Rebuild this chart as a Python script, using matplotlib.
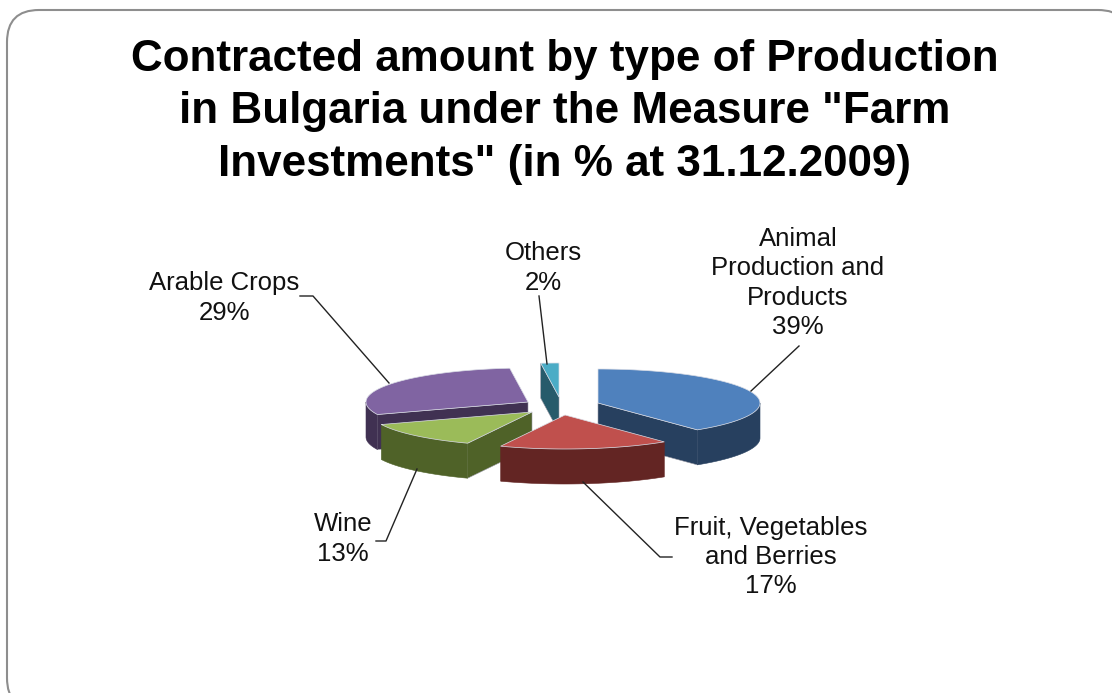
import numpy as np
import matplotlib
matplotlib.use("Agg")
import matplotlib.pyplot as plt
from matplotlib.patches import Polygon, FancyBboxPatch

plt.rcParams['font.family'] = ['Liberation Sans', 'DejaVu Sans']

title = 'Contracted amount by type of Production\nin Bulgaria under the Measure "Farm\nInvestments" (in % at 31.12.2009)'
categories = ['Animal\nProduction and\nProducts', 'Fruit, Vegetables\nand Berries', 'Wine', 'Arable Crops', 'Others']
values = [39.5, 17.0, 12.5, 29.2, 1.8]
value_labels = ['39%', '17%', '13%', '29%', '2%']

top_colors = ['#4F81BD', '#C0504D', '#9BBB59', '#8064A2', '#4BACC6']
side_colors = ['#27405F', '#632523', '#4F6228', '#403152', '#275B6B']
apexes = [(598, 403), (565, 415), (532, 412), (528, 402), (559, 397)]
label_pos = [(798, 283), (771, 557), (343, 539), (224, 298), (543, 268)]
leaders = [
    [(799, 346), (751, 391)],
    [(583, 482), (660, 557), (672, 557)],
    [(417, 469), (386, 541), (376, 541)],
    [(300, 296), (313, 296), (389, 383)],
    [(539, 296), (547, 364)],
]
RX, RY, DEPTH = 162, 34, 35
draw_order = [4, 3, 0, 2, 1]

fig = plt.figure(figsize=(11.12, 6.93), dpi=100)
ax = fig.add_axes([0, 0, 1, 1])
ax.set_xlim(0, 1112)
ax.set_ylim(693, 0)
ax.axis('off')

ax.add_patch(FancyBboxPatch((37, 40), 1063, 640, boxstyle='round,pad=30,rounding_size=32',
                            fc='white', ec='#8E8E8E', lw=1.5, zorder=0))

edges = np.concatenate([[0], np.cumsum(values)]) / sum(values) * 360


def pt(apex, deg, dy=0):
    a = np.radians(deg)
    return np.column_stack([apex[0] + RX * np.sin(a), apex[1] - RY * np.cos(a) + dy])


z = 1
for i in draw_order:
    a0, a1 = edges[i], edges[i + 1]
    apex = apexes[i]
    side = side_colors[i]
    arc = pt(apex, np.linspace(a0, a1, 80))
    # cut faces that look towards the viewer
    visible_cuts = []
    if 180 < a0 < 360:
        visible_cuts.append(a0)
    if 0 < a1 < 180:
        visible_cuts.append(a1)
    for ang in visible_cuts:
        p = pt(apex, np.array([ang]))[0]
        ax.add_patch(Polygon([apex, p, (p[0], p[1] + DEPTH), (apex[0], apex[1] + DEPTH)],
                             closed=True, fc=side, ec='#9A9AA6', lw=0.4, zorder=z))
    # outer wall, front half only
    lo, hi = max(a0, 90), min(a1, 270)
    if hi > lo:
        rim = np.linspace(lo, hi, 60)
        upper = pt(apex, rim)
        lower = pt(apex, rim[::-1], DEPTH)
        ax.add_patch(Polygon(np.vstack([upper, lower]), closed=True, fc=side, ec=side, lw=0.4, zorder=z))
    # top face
    ax.add_patch(Polygon(np.vstack([[apex], arc]), closed=True, fc=top_colors[i],
                         ec='#DADDE6', lw=0.5, zorder=z))
    z += 1

for xy in leaders:
    xs, ys = zip(*xy)
    ax.plot(xs, ys, color='#222222', lw=1.0, zorder=20)

for (x, y), c, v in zip(label_pos, categories, value_labels):
    ax.text(x, y, f'{c}\n{v}', ha='center', va='center', fontsize=18.5, linespacing=1.28,
            color='#111111', zorder=21)

ax.text(565, 112, title, ha='center', va='center', fontsize=31.7, fontweight='bold',
        linespacing=1.37, color='black', zorder=21)

fig.savefig('out.png', dpi=100, facecolor='white')
